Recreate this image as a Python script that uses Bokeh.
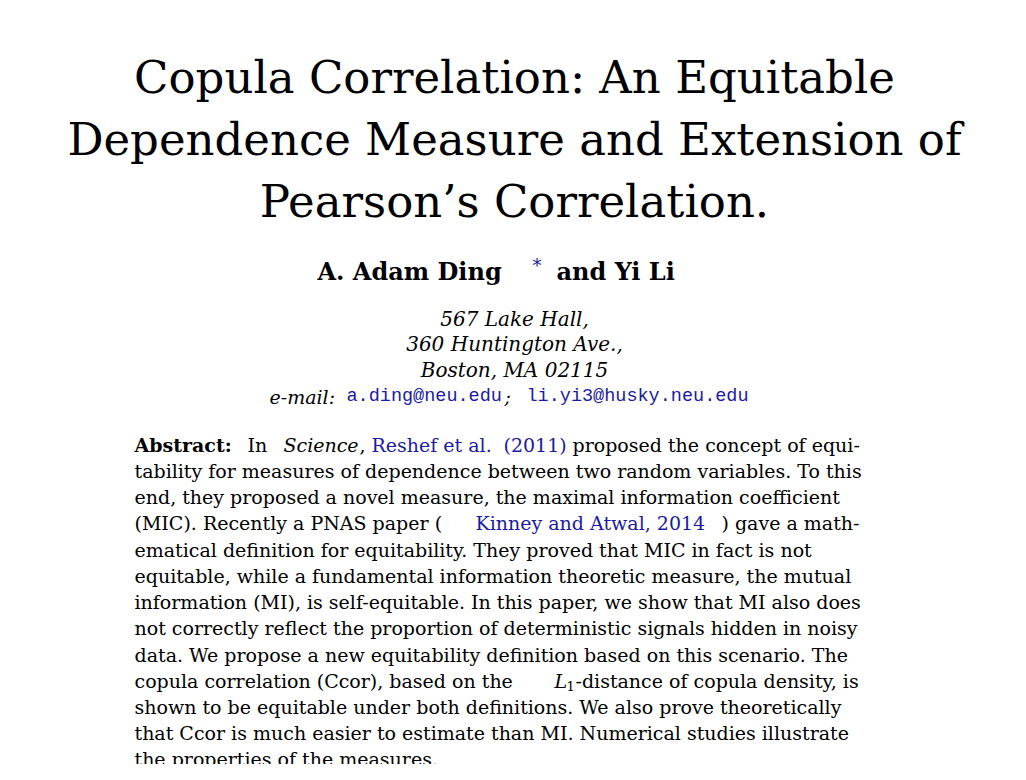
from bokeh.plotting import figure
from bokeh.models import Range1d
from bokeh.core.properties import value
from bokeh.embed import file_html
from bokeh.resources import INLINE

SERIF = "DejaVu Serif"
MONO = "Liberation Mono"
BLUE = "#1a1aa6"
BODY = "19px"

title_lines = ["Copula Correlation: An Equitable",
               "Dependence Measure and Extension of",
               "Pearson\u2019s Correlation."]
title_y = [78, 140, 202]

address_lines = ["567 Lake Hall,", "360 Huntington Ave.,", "Boston, MA 02115"]
address_y = [319, 344, 370]

# (x, y, text, style, color, font, size)
segments = [
    (318, 272, "A. Adam Ding", "bold", "black", SERIF, "24px"),
    (533, 266, "*", "normal", BLUE, SERIF, "18px"),
    (557, 272, "and Yi Li", "bold", "black", SERIF, "24px"),
    (270, 397, "e-mail:", "italic", "black", SERIF, "19px"),
    (347, 397, "a.ding@neu.edu", "normal", BLUE, MONO, "18.5px"),
    (505, 397, ";", "italic", "black", SERIF, "19px"),
    (527, 397, "li.yi3@husky.neu.edu", "normal", BLUE, MONO, "18.5px"),
    (135, 445, "Abstract:", "bold", "black", SERIF, BODY),
    (248, 445, "In", "normal", "black", SERIF, BODY),
    (284, 445, "Science", "italic", "black", SERIF, BODY),
    (360, 445, ",", "normal", "black", SERIF, BODY),
    (372, 445, "Reshef et al.", "normal", BLUE, SERIF, BODY),
    (504, 445, "(2011)", "normal", BLUE, SERIF, BODY),
    (573, 445, "proposed the concept of equi-", "normal", "black", SERIF, BODY),
    (135, 523, "(MIC). Recently a PNAS paper (", "normal", "black", SERIF, BODY),
    (476, 523, "Kinney and Atwal, 2014", "normal", BLUE, SERIF, BODY),
    (722, 523, ") gave a math-", "normal", "black", SERIF, BODY),
    (135, 681, "copula correlation (Ccor), based on the", "normal", "black", SERIF, BODY),
    (555, 681, "L", "italic", "black", SERIF, BODY),
    (567, 686, "1", "normal", "black", SERIF, "13px"),
    (576, 681, "-distance of copula density, is", "normal", "black", SERIF, BODY),
]

abstract_y = [471, 497, 550, 576, 602, 628, 655, 707, 733, 759]
abstract_text = [
    "tability for measures of dependence between two random variables. To this",
    "end, they proposed a novel measure, the maximal information coefficient",
    "ematical definition for equitability. They proved that MIC in fact is not",
    "equitable, while a fundamental information theoretic measure, the mutual",
    "information (MI), is self-equitable. In this paper, we show that MI also does",
    "not correctly reflect the proportion of deterministic signals hidden in noisy",
    "data. We propose a new equitability definition based on this scenario. The",
    "shown to be equitable under both definitions. We also prove theoretically",
    "that Ccor is much easier to estimate than MI. Numerical studies illustrate",
    "the properties of the measures.",
]

p = figure(width=1010, height=764, output_backend="svg", toolbar_location=None,
           x_range=Range1d(1, 1011), y_range=Range1d(765, 1), min_border=0)
p.axis.visible = False
p.grid.visible = False
p.outline_line_color = None

p.text(x=[515] * 3, y=title_y, text=title_lines, text_align="center", text_baseline="middle",
       text_font=value(SERIF), text_font_size="45px", text_color="black")
p.text(x=[515] * 3, y=address_y, text=address_lines, text_align="center", text_baseline="middle",
       text_font=value(SERIF), text_font_size="20px", text_font_style="italic", text_color="black")
for x, y, t, st, c, f, size in segments:
    p.text(x=[x], y=[y], text=[t], text_align="left", text_baseline="middle",
           text_font=value(f), text_font_size=size, text_font_style=st, text_color=c)
p.text(x=[135] * len(abstract_y), y=abstract_y, text=abstract_text,
       text_align="left", text_baseline="middle",
       text_font=value(SERIF), text_font_size=BODY, text_color="black")

open("out.html", "w").write(file_html(p, INLINE))
